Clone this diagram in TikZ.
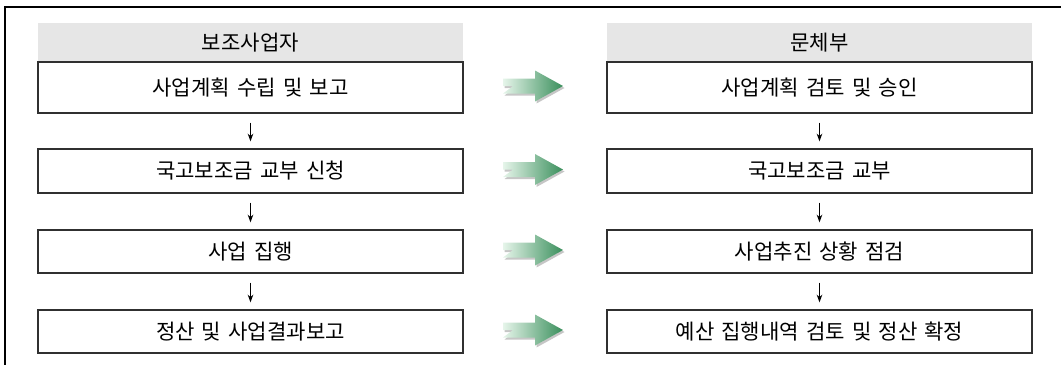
\documentclass[tikz,border=0pt]{standalone}
\usepackage{fontspec}
\setmainfont[WordSpace=1.5]{Noto Sans CJK KR}
\usetikzlibrary{calc,arrows.meta}
\definecolor{hdrgray}{HTML}{E6E6E6}
\definecolor{boxline}{HTML}{303030}
\definecolor{gdark}{HTML}{3A8F5C}
\definecolor{glight}{HTML}{E6F5EA}
\begin{document}
\begin{tikzpicture}[x=0.025cm,y=-0.025cm,
  colw/.style={minimum width=10.625cm,inner sep=0pt,font=\fontsize{15pt}{17pt}\selectfont},
  hdr/.style={colw,fill=hdrgray,minimum height=0.975cm},
  stepbox/.style={colw,draw=boxline,line width=0.9pt,fill=white},
  down/.style={line width=0.75pt,-{Stealth[length=5.5pt,width=4pt]},shorten <=6.4pt,shorten >=5pt},
  greenarrow/.pic={
    \fill[gray!45,shift={(1.5,2)}] (-30,0) -- (-30,-7.5) -- (2,-7.5) -- (2,-15.5) -- (30,0) -- (2,15.5) -- (2,7.5) -- (-30,7.5) -- (-20,0) -- cycle;
    \shade[left color=glight,right color=gdark,shading=axis] (-30,0) -- (-30,-7.5) -- (2,-7.5) -- (2,-15.5) -- (30,0) -- (2,15.5) -- (2,7.5) -- (-30,7.5) -- (-20,0) -- cycle;
  }]
\useasboundingbox (0,0) rectangle (1061,364);
\draw[line width=1.1pt,black] (5,370) -- (5,7) -- (1070,7);
% left column
\node[hdr] (LH) at (250.5,42.5) {보조사업자};
\node[stepbox,minimum height=1.275cm] (L1) at (250.5,87.5) {사업계획 수립 및 보고};
\node[stepbox,minimum height=1.1cm] (L2) at (250.5,171) {국고보조금 교부 신청};
\node[stepbox,minimum height=1.075cm] (L3) at (250.5,251.5) {사업 집행};
\node[stepbox,minimum height=1.075cm] (L4) at (250.5,331.5) {정산 및 사업결과보고};
% right column
\node[hdr] (RH) at (819.5,42.5) {문체부};
\node[stepbox,minimum height=1.275cm] (R1) at (819.5,87.5) {사업계획 검토 및 승인};
\node[stepbox,minimum height=1.1cm] (R2) at (819.5,171) {국고보조금 교부};
\node[stepbox,minimum height=1.075cm] (R3) at (819.5,251.5) {사업추진 상황 점검};
\node[stepbox,minimum height=1.075cm] (R4) at (819.5,331.5) {예산 집행내역 검토 및 정산 확정};
% down arrows
\draw[down] (L1.south) -- (L2.north);
\draw[down] (L2.south) -- (L3.north);
\draw[down] (L3.south) -- (L4.north);
\draw[down] (R1.south) -- (R2.north);
\draw[down] (R2.south) -- (R3.north);
\draw[down] (R3.south) -- (R4.north);
% green arrows
\foreach \i in {1,2,3,4}{
  \path ($(L\i.east)!0.5!(R\i.west)$) ++(-2,-1.5) pic {greenarrow};
}
\end{tikzpicture}
\end{document}
